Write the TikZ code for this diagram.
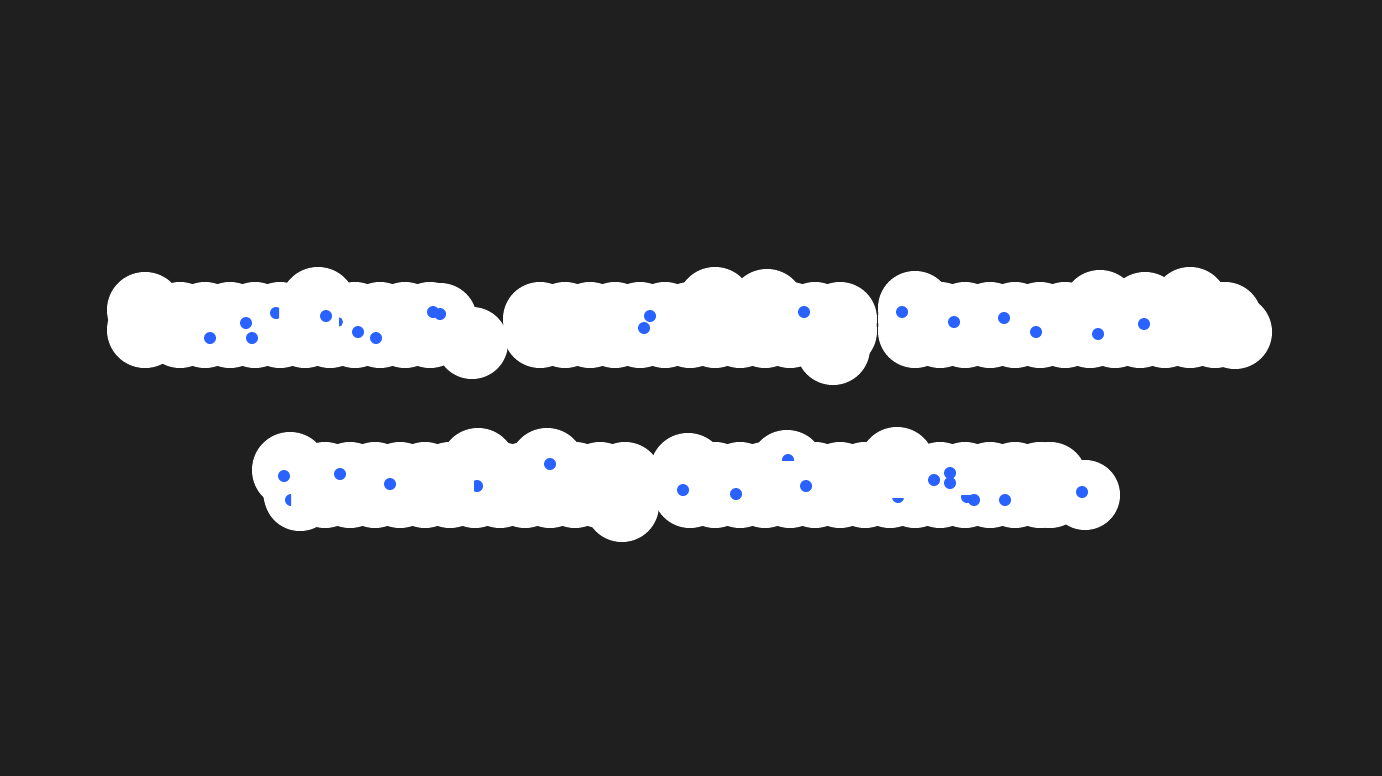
\documentclass[tikz,border=0pt]{standalone}
\definecolor{bg}{HTML}{1F1F1F}
\definecolor{dotblue}{HTML}{2962FF}
\begin{document}
\begin{tikzpicture}[x=0.5pt,y=-0.5pt,
  blob/.style={fill=white},
  bdot/.style={fill=dotblue}]
\fill[bg] (0,0) rectangle (1382,776);
\useasboundingbox (0,0) rectangle (1382,776);
% ---------- line 1, word 1
\foreach \x in {180,205,...,440} {\fill[blob] (\x,319) circle[radius=37]; \fill[blob] (\x,331) circle[radius=37];}
\fill[blob] (145,310) circle[radius=38];
\fill[blob] (145,330) circle[radius=38];
\fill[blob] (318,305) circle[radius=38];
\fill[blob] (440,320) circle[radius=37];
\fill[blob] (472,343) circle[radius=36];
% ---------- line 1, word 2
\foreach \x in {540,565,...,820} {\fill[blob] (\x,319) circle[radius=37]; \fill[blob] (\x,331) circle[radius=37];}
\fill[blob] (840,319) circle[radius=37];
\fill[blob] (840,331) circle[radius=37];
\fill[blob] (715,305) circle[radius=38];
\fill[blob] (767,307) circle[radius=38];
\fill[blob] (833,348) circle[radius=37];
% ---------- line 1, word 3
\foreach \x in {915,940,...,1220} {\fill[blob] (\x,319) circle[radius=37]; \fill[blob] (\x,331) circle[radius=37];}
\fill[blob] (1225,319) circle[radius=37];
\fill[blob] (915,308) circle[radius=37];
\fill[blob] (1100,308) circle[radius=38];
\fill[blob] (1145,310) circle[radius=38];
\fill[blob] (1190,305) circle[radius=38];
\fill[blob] (1235,332) circle[radius=37];
% ---------- line 2, word A
\foreach \x in {300,325,...,640} {\fill[blob] (\x,479) circle[radius=37]; \fill[blob] (\x,491) circle[radius=37];}
\fill[blob] (290,470) circle[radius=38];
\fill[blob] (300,495) circle[radius=36];
\fill[blob] (478,466) circle[radius=38];
\fill[blob] (547,466) circle[radius=38];
\fill[blob] (622,505) circle[radius=37];
% ---------- line 2, word B
\foreach \x in {690,715,...,1040} {\fill[blob] (\x,479) circle[radius=37]; \fill[blob] (\x,491) circle[radius=37];}
\fill[blob] (1050,479) circle[radius=37];
\fill[blob] (1050,491) circle[radius=37];
\fill[blob] (688,471) circle[radius=38];
\fill[blob] (787,468) circle[radius=38];
\fill[blob] (897,465) circle[radius=38];
\fill[blob] (1085,495) circle[radius=35];
% ---------- blue dots, line 1
\foreach \p in {(210,338),(246,323),(252,338),(326,316),(358,332),(376,338),
  (433,312),(440,314),(644,328),(650,316),(804,312),
  (902,312),(954,322),(1004,318),(1036,332),(1098,334),(1144,324)}
  {\fill[bdot] \p circle[radius=6];}
\begin{scope}\clip (260,300) rectangle (279,330); \fill[bdot] (276,313) circle[radius=6];\end{scope}
\begin{scope}\clip (339,310) rectangle (350,335); \fill[bdot] (338,322) circle[radius=5];\end{scope}
% ---------- blue dots, line 2
\foreach \p in {(284,476),(340,474),(390,484),(550,464),(683,490),(736,494),
  (806,486),(934,480),(950,473),(950,483),(974,500),(1005,500),(1082,492)}
  {\fill[bdot] \p circle[radius=6];}
\begin{scope}\clip (280,490) rectangle (291,510); \fill[bdot] (291,500) circle[radius=6];\end{scope}
\begin{scope}\clip (474,475) rectangle (490,500); \fill[bdot] (477,486) circle[radius=6];\end{scope}
\begin{scope}\clip (775,450) rectangle (800,460); \fill[bdot] (788,460) circle[radius=6];\end{scope}
\begin{scope}\clip (885,498) rectangle (910,510); \fill[bdot] (898,497) circle[radius=6];\end{scope}
\begin{scope}\clip (955,495) rectangle (975,510); \fill[bdot] (967,497) circle[radius=6];\end{scope}
\end{tikzpicture}
\end{document}
